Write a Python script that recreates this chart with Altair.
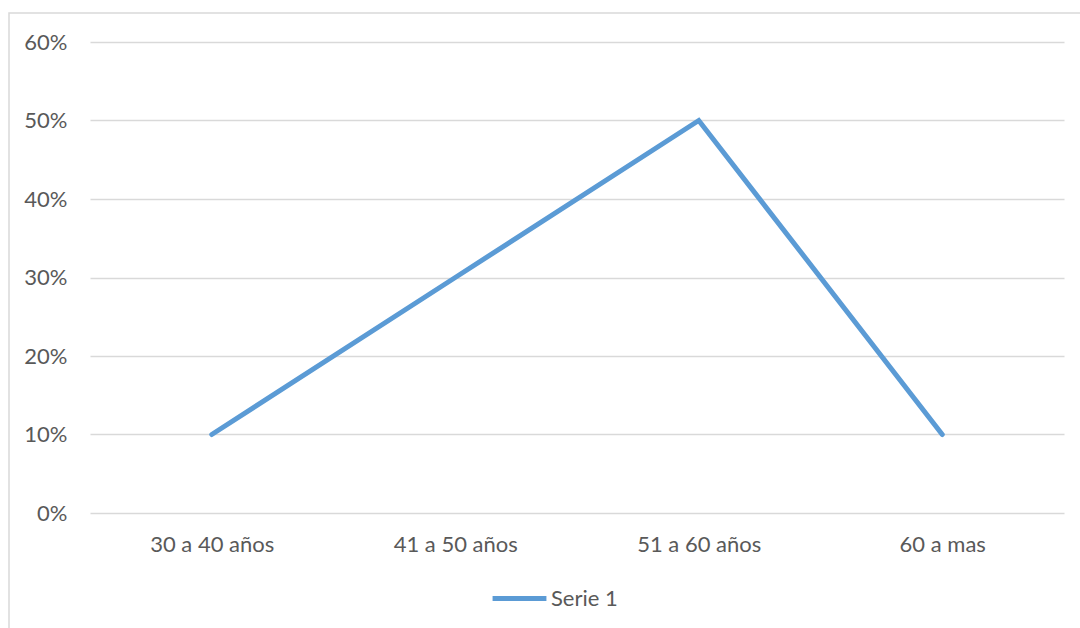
import altair as alt
import pandas as pd

# Age groups and the share of respondents in each
categories = ["30 a 40 años", "41 a 50 años", "51 a 60 años", "60 a mas"]
shares = [0.10, 0.30, 0.50, 0.10]
series_name = "Serie 1"
y_ticks = [0.0, 0.1, 0.2, 0.3, 0.4, 0.5, 0.6]

df = pd.DataFrame({"grupo": categories, "valor": shares, "serie": [series_name] * len(categories)})

FONT = "Lato"
TEXT = "#595959"
GRID = "#d9d9d9"
BLUE = "#5b9bd5"

W, H = 974, 471

line = alt.Chart(df).mark_line(strokeWidth=5, strokeCap="round", strokeJoin="miter").encode(
    x=alt.X(
        "grupo:N",
        sort=categories,
        scale=alt.Scale(type="point", padding=0.5),
        axis=alt.Axis(
            title=None, labelAngle=0, domain=False, ticks=False, grid=False,
            labelPadding=21, labelFontSize=22, labelColor=TEXT, labelFont=FONT,
        ),
    ),
    y=alt.Y(
        "valor:Q",
        scale=alt.Scale(domain=[0, 0.6], nice=False),
        axis=alt.Axis(
            title=None, values=y_ticks, format=".0%", domain=False, ticks=False,
            grid=True, gridColor=GRID, gridWidth=1.5, labelPadding=23,
            labelFontSize=22, labelColor=TEXT, labelFont=FONT,
        ),
    ),
    color=alt.Color(
        "serie:N",
        scale=alt.Scale(range=[BLUE]),
        legend=alt.Legend(
            title=None, orient="none", legendX=400, legendY=527,
            symbolType="stroke", symbolStrokeWidth=5, symbolSize=2900,
            labelFontSize=22, labelColor=TEXT, labelFont=FONT, labelOffset=2,
            padding=0,
        ),
    ),
)

# outer chart frame
frame = alt.Chart(pd.DataFrame({"k": [0]})).mark_rect(
    fill=None, stroke=GRID, strokeWidth=1.5, clip=False
).encode(
    x=alt.value(-81), x2=alt.value(W + 40),
    y=alt.value(-29), y2=alt.value(H + 140),
)

chart = alt.layer(frame, line).properties(
    width=W, height=H,
    autosize=alt.AutoSizeParams(type="none"),
    padding={"left": 90, "top": 42, "right": 16, "bottom": 115},
    background="white",
).configure_view(stroke=None)

chart.save("out.html", embed_options={"renderer": "svg", "actions": False})
